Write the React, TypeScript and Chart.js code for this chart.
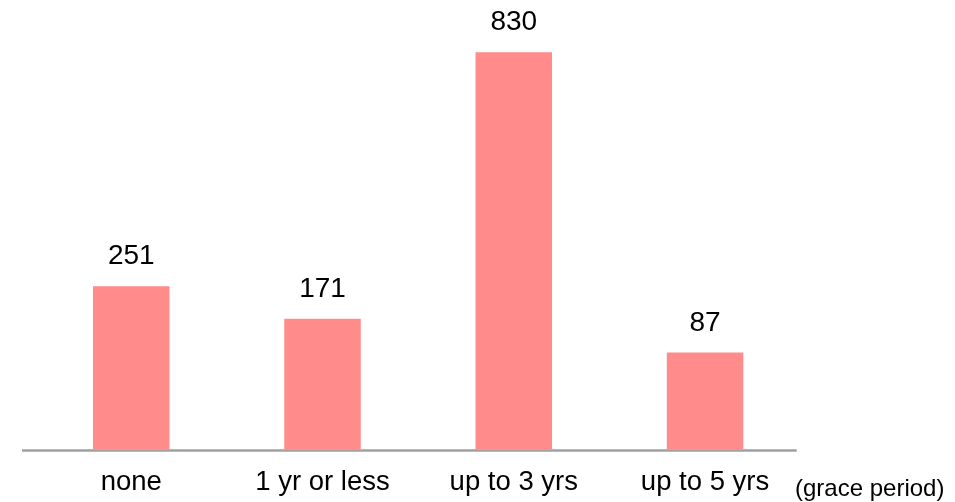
import React, { useEffect, useRef } from "react";
import { Chart, registerables } from "chart.js";

Chart.register(...registerables);

const categories = ["none", "1 yr or less", "up to 3 yrs", "up to 5 yrs"];
const counts = [251, 171, 830, 87];
const axisNote = "(grace period)";

const Y_MIN = -152.5;
const Y_MAX = 959.4;
const FONT = "'Liberation Sans', Arial, Helvetica, sans-serif";

const decorPlugin = {
  id: "decor",
  afterDatasetsDraw(chart: any) {
    const { ctx, chartArea } = chart;
    ctx.save();
    // baseline axis line
    ctx.strokeStyle = "#a0a0a0";
    ctx.lineWidth = 2.5;
    ctx.beginPath();
    ctx.moveTo(chartArea.left - 13.6, chartArea.bottom + 1);
    ctx.lineTo(chartArea.right - 4, chartArea.bottom + 1);
    ctx.stroke();
    // value labels
    const meta = chart.getDatasetMeta(0);
    ctx.fillStyle = "#000";
    ctx.font = `28px ${FONT}`;
    ctx.textAlign = "center";
    ctx.textBaseline = "alphabetic";
    meta.data.forEach((bar: any, i: number) => {
      ctx.fillText(String(counts[i]), bar.x, bar.y - 22);
    });
    // axis note
    ctx.font = `24px ${FONT}`;
    ctx.textAlign = "left";
    ctx.fillText(axisNote, chartArea.right - 5.7, chartArea.bottom + 47);
    ctx.restore();
  },
};

export default function App() {
  const ref = useRef<HTMLCanvasElement | null>(null);
  useEffect(() => {
    document.body.style.margin = "0";
    const chart = new Chart(ref.current as HTMLCanvasElement, {
      type: "bar",
      data: {
        labels: categories,
        datasets: [
          {
            data: counts,
            backgroundColor: "#ff8b8b",
            borderWidth: 0,
            base: Y_MIN,
            barPercentage: 0.4,
            categoryPercentage: 1,
          } as any,
        ],
      },
      options: {
        responsive: false,
        animation: false,
        layout: { padding: { left: 35.6, right: 154.3, top: 0, bottom: -14.4 } },
        plugins: { legend: { display: false }, tooltip: { enabled: false } },
        scales: {
          x: {
            grid: { display: false, drawTicks: false },
            border: { display: false },
            ticks: {
              color: "#000",
              padding: 17,
              font: { size: 27.5, family: FONT },
              maxRotation: 0,
              autoSkip: false,
            },
          },
          y: { display: false, min: Y_MIN, max: Y_MAX },
        },
      },
      plugins: [decorPlugin],
    });
    return () => chart.destroy();
  }, []);
  return (
    <div style={{ position: "absolute", left: 0, top: 0, width: 955, height: 502 }}>
      <canvas ref={ref} width={955} height={502} />
    </div>
  );
}
